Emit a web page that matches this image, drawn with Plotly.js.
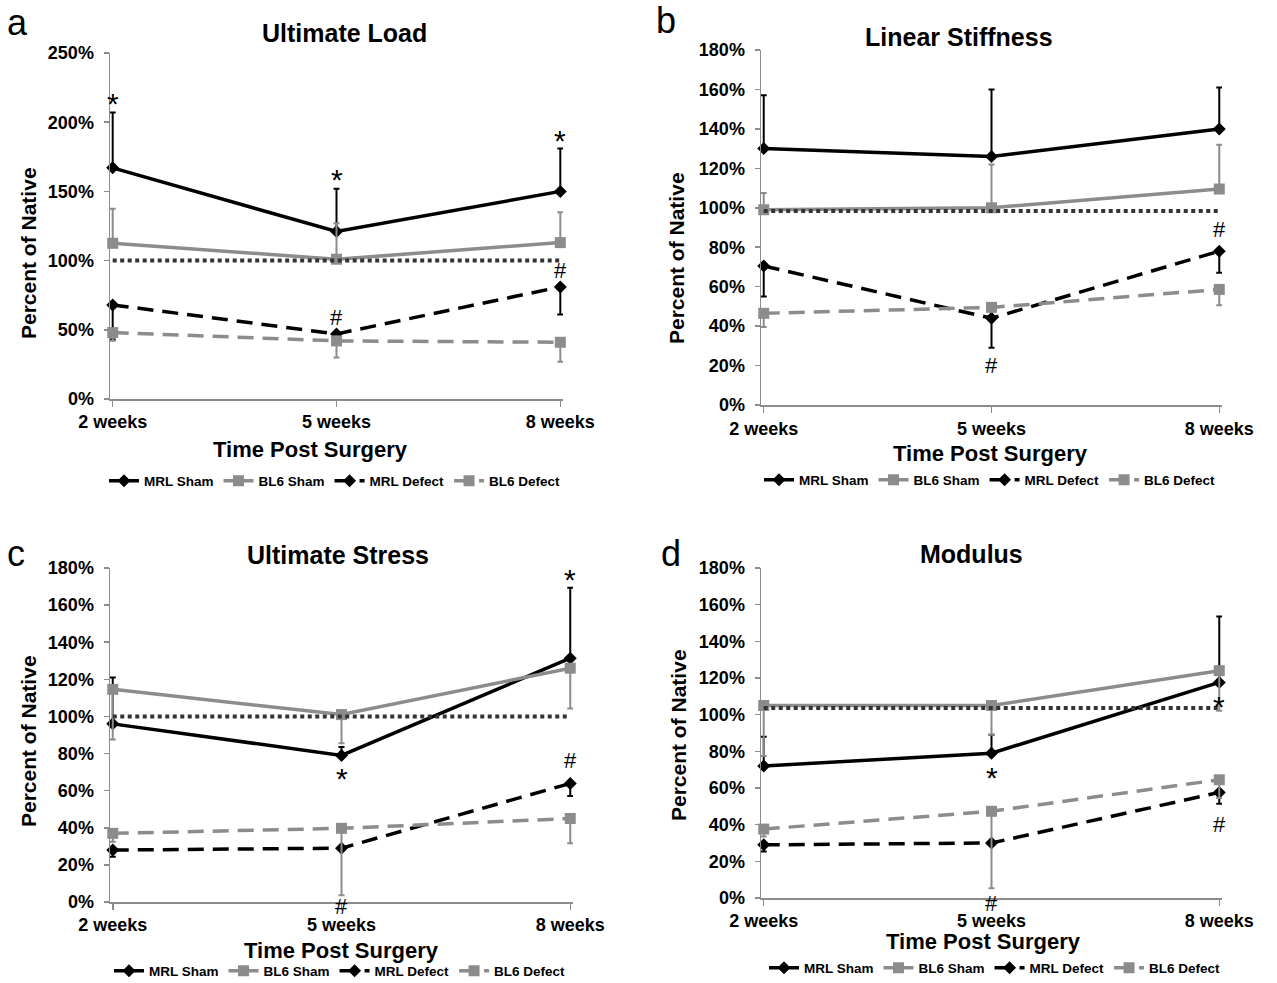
<!DOCTYPE html>
<html>
<head>
<meta charset="utf-8">
<script src="https://cdn.plot.ly/plotly-3.0.1.min.js"></script>
<style>html,body{margin:0;padding:0;background:#fff;}#chart{width:1277px;height:983px;}</style>
</head>
<body>
<div id="chart"></div>
<script>
// ---------- DATA ----------
const weeks = ['2 weeks', '5 weeks', '8 weeks'];
const seriesNames = ['MRL Sham', 'BL6 Sham', 'MRL Defect', 'BL6 Defect'];
const panelTitles = ['Ultimate Load', 'Linear Stiffness', 'Ultimate Stress', 'Modulus'];
const panelLetters = ['a', 'b', 'c', 'd'];
const yMax = [250, 180, 180, 180];
const yStep = [50, 20, 20, 20];

// (a) Ultimate Load
const aMrlSham = [167, 121, 150];     const aMrlShamUp = [40, 31, 31];   const aMrlShamDn = [0, 0, 0];
const aBl6Sham = [112.5, 101, 113];   const aBl6ShamUp = [25, 26, 22];   const aBl6ShamDn = [0, 0, 0];
const aMrlDefect = [68, 47, 81];      const aMrlDefectUp = [0, 0, 0];    const aMrlDefectDn = [25, 3, 20];
const aBl6Defect = [48, 42, 41];      const aBl6DefectUp = [0, 0, 0];    const aBl6DefectDn = [6, 12, 14];
const aNative = [100, 100, 100];
const aStars = {x: ['2 weeks', '5 weeks', '8 weeks'], y: [218, 163, 191]};
const aHash = {x: ['5 weeks', '8 weeks'], y: [59, 93]};

// (b) Linear Stiffness
const bMrlSham = [130, 126, 140];     const bMrlShamUp = [27, 34, 21];   const bMrlShamDn = [0, 0, 0];
const bBl6Sham = [99, 100, 109.5];    const bBl6ShamUp = [8.5, 22, 22.5]; const bBl6ShamDn = [0, 0, 0];
const bMrlDefect = [70.5, 44, 78];    const bMrlDefectUp = [0, 0, 0];    const bMrlDefectDn = [15.5, 15, 11];
const bBl6Defect = [46.5, 49.5, 58.6]; const bBl6DefectUp = [0, 0, 0];   const bBl6DefectDn = [7, 0, 8];
const bNative = [98.4, 98.4, 98.4];
const bStars = {x: [], y: []};
const bHash = {x: ['5 weeks', '8 weeks'], y: [20, 89]};

// (c) Ultimate Stress
const cMrlSham = [96, 79, 131.4];     const cMrlShamUp = [25, 4.5, 38];  const cMrlShamDn = [0, 0, 0];
const cBl6Sham = [114.6, 101, 126];   const cBl6ShamUp = [0, 0, 0];      const cBl6ShamDn = [27, 15.5, 21.7];
const cMrlDefect = [28, 29, 63.9];    const cMrlDefectUp = [0, 0, 0];    const cMrlDefectDn = [3.6, 0, 6.8];
const cBl6Defect = [37, 39.7, 45];    const cBl6DefectUp = [0, 0, 0];    const cBl6DefectDn = [4.5, 36, 13.4];
const cNative = [100, 100, 100];
const cStars = {x: ['5 weeks', '8 weeks'], y: [70, 177]};
const cHash = {x: ['5 weeks', '8 weeks'], y: [0, 76.5]};

// (d) Modulus
const dMrlSham = [72, 79, 117.6];     const dMrlShamUp = [16, 10, 36];   const dMrlShamDn = [0, 0, 0];
const dBl6Sham = [105, 105, 124];     const dBl6ShamUp = [0, 0, 0];      const dBl6ShamDn = [27.6, 16, 21.8];
const dMrlDefect = [29, 30, 57.6];    const dMrlDefectUp = [0, 0, 0];    const dMrlDefectDn = [3.6, 0, 6.2];
const dBl6Defect = [37.6, 47.3, 64.5]; const dBl6DefectUp = [0, 0, 0];   const dBl6DefectDn = [4, 42, 10];
const dNative = [103.6, 103.6, 103.6];
const dStars = {x: ['5 weeks', '8 weeks'], y: [69, 108]};
const dHash = {x: ['5 weeks', '8 weeks'], y: [0, 40]};

// ---------- STYLE / LAYOUT ----------
const W = 1277, H = 983;
const FONT = 'Liberation Sans, Arial, sans-serif';
const BLACK = '#000000', GRAY = '#8c8c8c', AXIS = '#8c8c8c';
const fx = p => p / W, fy = p => 1 - p / H;

// plot boxes in pixels: [left, right, top, bottom]
const boxes = [[110, 563, 53, 399], [761, 1222, 50, 405], [110, 573, 568, 902], [761, 1222, 568, 898]];
const titlePos = [[344, 33], [959, 37], [338, 555], [971, 554]];
const yTitlePos = [[28, 253], [676, 258], [28, 741], [678, 735]];
const xTitlePos = [[310, 450], [990, 453], [341, 950], [983, 941]];
const letterPos = [[17, 22], [666, 20], [16, 553], [671, 553]];
const legendPos = [[335, 481], [990, 480], [340, 971], [995, 968]];
const xTickStandoff = [0, 1, 0, 0];
// hash marks sitting on the x axis are nudged just below it (px)
const hashShift = [[0, 0], [0, 0], [-4, 0], [-5, 0]];

const panels = [
  {s: [aMrlSham, aBl6Sham, aMrlDefect, aBl6Defect], up: [aMrlShamUp, aBl6ShamUp, aMrlDefectUp, aBl6DefectUp], dn: [aMrlShamDn, aBl6ShamDn, aMrlDefectDn, aBl6DefectDn], nat: aNative, stars: aStars, hash: aHash},
  {s: [bMrlSham, bBl6Sham, bMrlDefect, bBl6Defect], up: [bMrlShamUp, bBl6ShamUp, bMrlDefectUp, bBl6DefectUp], dn: [bMrlShamDn, bBl6ShamDn, bMrlDefectDn, bBl6DefectDn], nat: bNative, stars: bStars, hash: bHash},
  {s: [cMrlSham, cBl6Sham, cMrlDefect, cBl6Defect], up: [cMrlShamUp, cBl6ShamUp, cMrlDefectUp, cBl6DefectUp], dn: [cMrlShamDn, cBl6ShamDn, cMrlDefectDn, cBl6DefectDn], nat: cNative, stars: cStars, hash: cHash},
  {s: [dMrlSham, dBl6Sham, dMrlDefect, dBl6Defect], up: [dMrlShamUp, dBl6ShamUp, dMrlDefectUp, dBl6DefectUp], dn: [dMrlShamDn, dBl6ShamDn, dMrlDefectDn, dBl6DefectDn], nat: dNative, stars: dStars, hash: dHash}
];

const styles = [
  {color: BLACK, dash: 'solid', symbol: 'diamond', size: 10},
  {color: GRAY, dash: 'solid', symbol: 'square', size: 11},
  {color: BLACK, dash: '16px,9px', symbol: 'diamond', size: 10},
  {color: GRAY, dash: '16px,9px', symbol: 'square', size: 11}
];

const traces = [];
const annotations = [];
const layout = {
  width: W, height: H,
  margin: {l: 0, r: 0, t: 0, b: 0, autoexpand: false},
  paper_bgcolor: '#ffffff', plot_bgcolor: '#ffffff',
  font: {family: FONT, color: BLACK},
  showlegend: true,
  annotations: annotations
};

panels.forEach((p, i) => {
  const n = i + 1;
  const xa = 'x' + (n === 1 ? '' : n), ya = 'y' + (n === 1 ? '' : n);
  const xk = 'xaxis' + (n === 1 ? '' : n), yk = 'yaxis' + (n === 1 ? '' : n);
  const lk = 'legend' + (n === 1 ? '' : n);
  const b = boxes[i];

  p.s.forEach((vals, k) => {
    const st = styles[k];
    traces.push({
      type: 'scatter', mode: 'lines+markers', name: seriesNames[k],
      x: weeks, y: vals, xaxis: xa, yaxis: ya, legend: lk,
      cliponaxis: false,
      line: {color: st.color, width: 3.5, dash: st.dash},
      marker: {symbol: st.symbol, size: st.size, color: st.color},
      error_y: {type: 'data', symmetric: false, array: p.up[k], arrayminus: p.dn[k], color: st.color, thickness: 2, width: 3},
      hoverinfo: 'x+y'
    });
  });
  traces.push({
    type: 'scatter', mode: 'lines', name: 'Native', showlegend: false,
    x: weeks, y: p.nat, xaxis: xa, yaxis: ya, legend: lk,
    line: {color: '#333333', width: 4, dash: '4px,3.5px'}
  });

  layout[xk] = {
    domain: [fx(b[0]), fx(b[1])], anchor: ya, type: 'category',
    categoryorder: 'array', categoryarray: weeks,
    range: [-0.012, 2.012], showgrid: false, zeroline: false,
    showline: true, linecolor: AXIS, linewidth: 1.5,
    ticks: 'outside', ticklen: 6, tickcolor: AXIS, tickwidth: 1.5,
    ticklabelstandoff: xTickStandoff[i],
    tickfont: {family: FONT, size: 18, color: BLACK, weight: 'bold'},
    automargin: false, fixedrange: true
  };
  layout[yk] = {
    domain: [fy(b[3]), fy(b[2])], anchor: xa,
    range: [0, yMax[i]], dtick: yStep[i], tick0: 0, ticksuffix: '%',
    showgrid: false, zeroline: false,
    showline: true, linecolor: AXIS, linewidth: 1.5,
    ticks: 'outside', ticklen: 5, tickcolor: AXIS, tickwidth: 1.5,
    ticklabelstandoff: 6,
    tickfont: {family: FONT, size: 18, color: BLACK, weight: 'bold'},
    automargin: false, fixedrange: true
  };
  layout[lk] = {
    orientation: 'h', x: fx(legendPos[i][0]), y: fy(legendPos[i][1]),
    xanchor: 'center', yanchor: 'middle', xref: 'paper', yref: 'paper',
    font: {family: FONT, size: 13.5, color: BLACK, weight: 'bold'},
    bgcolor: 'rgba(0,0,0,0)', itemwidth: 30, tracegroupgap: 0
  };

  // panel title
  annotations.push({xref: 'paper', yref: 'paper', x: fx(titlePos[i][0]), y: fy(titlePos[i][1]),
    xanchor: 'center', yanchor: 'middle', showarrow: false, text: panelTitles[i],
    font: {family: FONT, size: 25, color: BLACK, weight: 'bold'}});
  // axis titles
  annotations.push({xref: 'paper', yref: 'paper', x: fx(yTitlePos[i][0]), y: fy(yTitlePos[i][1]),
    xanchor: 'center', yanchor: 'middle', showarrow: false, text: 'Percent of Native', textangle: -90,
    font: {family: FONT, size: 21, color: BLACK, weight: 'bold'}});
  annotations.push({xref: 'paper', yref: 'paper', x: fx(xTitlePos[i][0]), y: fy(xTitlePos[i][1]),
    xanchor: 'center', yanchor: 'middle', showarrow: false, text: 'Time Post Surgery',
    font: {family: FONT, size: 22, color: BLACK, weight: 'bold'}});
  // panel letter
  annotations.push({xref: 'paper', yref: 'paper', x: fx(letterPos[i][0]), y: fy(letterPos[i][1]),
    xanchor: 'center', yanchor: 'middle', showarrow: false, text: panelLetters[i],
    font: {family: FONT, size: 36, color: BLACK}});
  // significance markers
  p.stars.x.forEach((xv, j) => annotations.push({xref: xa, yref: ya, x: xv, y: p.stars.y[j],
    xanchor: 'center', yanchor: 'middle', showarrow: false, text: '*', yshift: -6,
    font: {family: FONT, size: 30, color: BLACK}}));
  p.hash.x.forEach((xv, j) => annotations.push({xref: xa, yref: ya, x: xv, y: p.hash.y[j],
    xanchor: 'center', yanchor: 'middle', showarrow: false, text: '#', yshift: hashShift[i][j],
    font: {family: FONT, size: 22, color: BLACK}}));
});

Plotly.newPlot('chart', traces, layout, {displayModeBar: false, staticPlot: true});
</script>
</body>
</html>
